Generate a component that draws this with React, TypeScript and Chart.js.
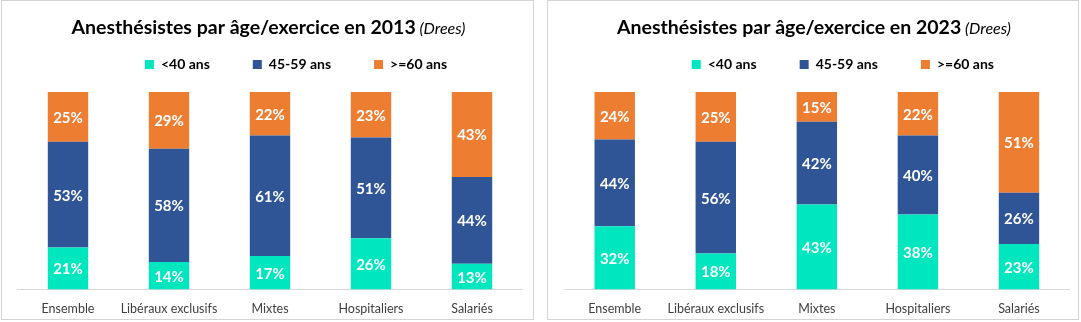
import React, { useEffect, useRef } from "react";
import { Chart, registerables } from "chart.js";

Chart.register(...registerables);

// ---- data ----
const categories = ["Ensemble", "Libéraux exclusifs", "Mixtes", "Hospitaliers", "Salariés"];
const seriesNames = ["<40 ans", "45-59 ans", ">=60 ans"];

const under40_2013 = [21, 14, 17, 26, 13];
const mid_2013 = [53, 58, 61, 51, 44];
const over60_2013 = [25, 29, 22, 23, 43];

const under40_2023 = [32, 18, 43, 38, 23];
const mid_2023 = [44, 56, 42, 40, 26];
const over60_2023 = [24, 25, 15, 22, 51];

const titleMain2013 = "Anesthésistes par âge/exercice en 2013";
const titleMain2023 = "Anesthésistes par âge/exercice en 2023";
const titleSource = " (Drees)";

const seriesColors = ["#00E6BE", "#2F5597", "#ED7D31"];

const FONT = "Lato, 'Open Sans', sans-serif";

type PanelProps = {
  titleMain: string;
  series: number[][];
  pageLeft: number;
  outerWidth: number;
  padLeft: number;
  padRight: number;
};

function Panel({ titleMain, series, pageLeft, outerWidth, padLeft, padRight }: PanelProps) {
  const ref = useRef<HTMLCanvasElement | null>(null);
  const innerW = outerWidth - 2;
  const innerH = 318;

  useEffect(() => {
    if (!ref.current) return;
    const totals = categories.map((_, i) => series.reduce((s, arr) => s + arr[i], 0));

    const datasets = series.map((arr, k) => ({
      label: seriesNames[k],
      data: arr.map((v, i) => (v / totals[i]) * 100),
      raw: arr,
      backgroundColor: seriesColors[k],
      borderWidth: 0,
      categoryPercentage: 0.8,
      barPercentage: 0.5,
    }));

    const legendPatch = {
      id: "legendPatch",
      beforeInit(chart: any) {
        const lg = chart.legend;
        if (!lg) return;
        const orig = lg.fit;
        lg.fit = function () {
          orig.call(this);
          this.height += 10.5;
        };
      },
      afterLayout(chart: any) {
        if (chart.legend) chart.legend.left += 52;
      },
    };

    const titlePlugin = {
      id: "mixedTitle",
      afterDraw(chart: any) {
        const ctx = chart.ctx;
        ctx.save();
        const boldFont = `bold 19.5px ${FONT}`;
        const italFont = `italic 16px ${FONT}`;
        ctx.font = boldFont;
        const w1 = ctx.measureText(titleMain).width;
        ctx.font = italFont;
        const w2 = ctx.measureText(titleSource).width;
        const cx = chart.width / 2 + 1;
        let x = cx - (w1 + w2) / 2;
        const y = 33;
        ctx.fillStyle = "#000000";
        ctx.textBaseline = "alphabetic";
        ctx.textAlign = "left";
        ctx.font = boldFont;
        ctx.fillText(titleMain, x, y);
        ctx.font = italFont;
        ctx.fillText(titleSource, x + w1, y);
        ctx.restore();
      },
    };

    const valueLabels = {
      id: "valueLabels",
      afterDatasetsDraw(chart: any) {
        const ctx = chart.ctx;
        ctx.save();
        ctx.font = `bold 15px ${FONT}`;
        ctx.fillStyle = "#FFFFFF";
        ctx.textAlign = "center";
        ctx.textBaseline = "middle";
        chart.data.datasets.forEach((ds: any, di: number) => {
          const meta = chart.getDatasetMeta(di);
          meta.data.forEach((el: any, i: number) => {
            const p = el.getProps(["x", "y", "base"], true);
            ctx.fillText(ds.raw[i] + "%", p.x, (p.y + p.base) / 2 + 1);
          });
        });
        ctx.restore();
      },
    };

    const chart = new Chart(ref.current, {
      type: "bar",
      data: { labels: categories, datasets: datasets as any },
      options: {
        animation: false,
        responsive: false,
        maintainAspectRatio: false,
        layout: { padding: { top: 13.5, left: padLeft, right: padRight, bottom: 0 } },
        plugins: {
          title: { display: false },
          tooltip: { enabled: false },
          legend: {
            display: true,
            position: "top",
            align: "center",
            labels: {
              boxWidth: 9,
              boxHeight: 9,
              padding: 43,
              color: "#000000",
              font: { family: FONT, size: 14, weight: "bold" },
            },
          },
        },
        scales: {
          x: {
            stacked: true,
            grid: { display: false, drawTicks: false },
            border: { display: true, color: "#D9D9D9", width: 1 },
            ticks: {
              color: "#404040",
              padding: 12,
              font: { family: FONT, size: 12.5 },
              maxRotation: 0,
              autoSkip: false,
            },
            afterFit(scale: any) {
              scale.height = 29.5;
            },
          },
          y: {
            stacked: true,
            display: false,
            min: 0,
            max: 100,
          },
        },
      },
      plugins: [legendPatch, titlePlugin, valueLabels],
    });
    return () => chart.destroy();
  }, []);

  return (
    <div
      style={{
        position: "absolute",
        left: pageLeft,
        top: 0,
        width: outerWidth,
        height: 320,
        boxSizing: "border-box",
        border: "1px solid #D4D4D4",
        background: "#FFFFFF",
      }}
    >
      <canvas ref={ref} width={innerW} height={innerH} style={{ display: "block", width: innerW, height: innerH }} />
    </div>
  );
}

export default function App() {
  return (
    <div style={{ position: "absolute", left: 0, top: 0, width: 1081, height: 322, background: "#FFFFFF" }}>
      <Panel
        titleMain={titleMain2013}
        series={[under40_2013, mid_2013, over60_2013]}
        pageLeft={1}
        outerWidth={533}
        padLeft={15.5}
        padRight={10.5}
      />
      <Panel
        titleMain={titleMain2023}
        series={[under40_2023, mid_2023, over60_2023]}
        pageLeft={547}
        outerWidth={532}
        padLeft={16.2}
        padRight={8.5}
      />
    </div>
  );
}
